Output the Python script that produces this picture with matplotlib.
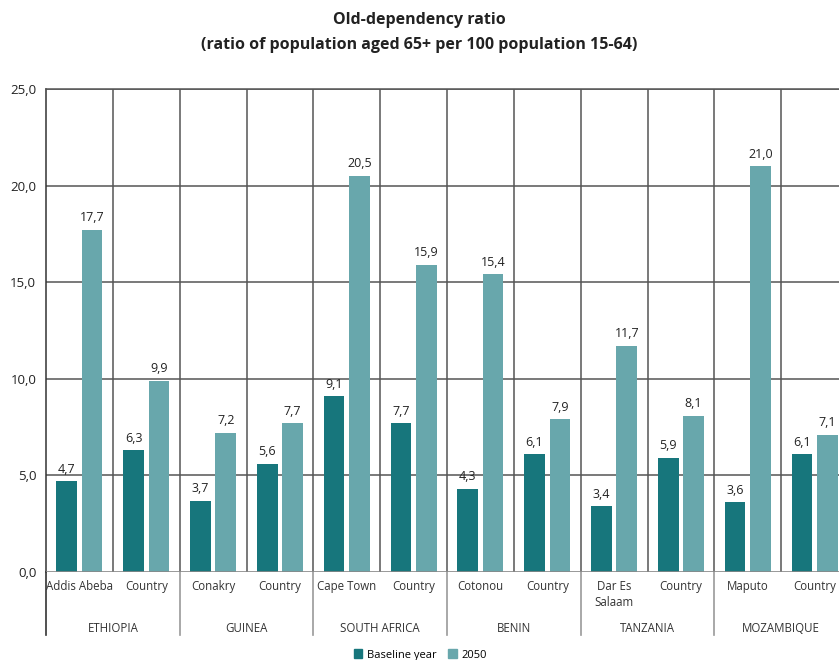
import numpy as np
import matplotlib
matplotlib.use("Agg")
import matplotlib.pyplot as plt
from matplotlib.patches import Patch

plt.rcParams['font.family'] = ['Open Sans', 'DejaVu Sans']

countries = ["ETHIOPIA", "GUINEA", "SOUTH AFRICA", "BENIN", "TANZANIA", "MOZAMBIQUE"]
places = ["Addis Abeba", "Country", "Conakry", "Country", "Cape Town", "Country",
          "Cotonou", "Country", "Dar Es\nSalaam", "Country", "Maputo", "Country"]
baseline = [4.7, 6.3, 3.7, 5.6, 9.1, 7.7, 4.3, 6.1, 3.4, 5.9, 3.6, 6.1]
y2050 = [17.7, 9.9, 7.2, 7.7, 20.5, 15.9, 15.4, 7.9, 11.7, 8.1, 21.0, 7.1]
yticks = [0, 5, 10, 15, 20, 25]

c_base = "#17767c"
c_2050 = "#68a7ac"
grid_c = "#555555"

fig = plt.figure(figsize=(8.39, 6.6), dpi=100)
W, H = 839, 660
ax = fig.add_axes([46 / W, (H - 572) / H, (848 - 46) / W, (572 - 89) / H])

x = np.arange(len(places)) + 0.5
w = 0.31
b1 = ax.bar(x - 0.19, baseline, w, color=c_base, zorder=3)
b2 = ax.bar(x + 0.19, y2050, w, color=c_2050, zorder=3)

for bars, vals in ((b1, baseline), (b2, y2050)):
    for r, v in zip(bars, vals):
        ax.annotate(f"{v:.1f}".replace(".", ","), (r.get_x() + r.get_width() / 2, v),
                    xytext=(0, 4), textcoords="offset points", ha="center", va="bottom",
                    fontsize=9, color="#222222")

ax.set_xlim(0, len(places))
ax.set_ylim(0, 25)
ax.set_yticks(yticks)
ax.set_yticklabels([f"{t:.1f}".replace(".", ",") for t in yticks], fontsize=9.5, color="#222222")
ax.set_xticks([])
ax.tick_params(axis="y", length=0, pad=7)

for t in yticks[1:]:
    ax.axhline(t, color=grid_c, lw=1.1, zorder=1)
for i in range(1, len(places)):
    ax.axvline(i, color=grid_c, lw=1.1, zorder=1)
ax.axhline(0, color="#888888", lw=1.2, zorder=4)

for s in ["right", "bottom"]:
    ax.spines[s].set_visible(False)
ax.spines["top"].set_color(grid_c)
ax.spines["left"].set_color("#333333")
ax.spines["top"].set_linewidth(1.1)
ax.spines["left"].set_linewidth(1.1)

# group separators below axis
trans = ax.get_xaxis_transform()
low = -63 / 483
for i in range(0, len(places) + 1, 2):
    col = "#333333" if i == 0 else "#999999"
    ax.plot([i, i], [0, low], color=col, lw=1.2, transform=trans, clip_on=False)

for xi, p in zip(x, places):
    ax.text(xi, -8 / 483, p, transform=trans, ha="center", va="top",
            fontsize=8.3, color="#333333", linespacing=1.25)
for i, c in enumerate(countries):
    ax.text(2 * i + 1, -57 / 483, c, transform=trans, ha="center", va="center",
            fontsize=8.3, color="#333333")

fig.text(0.5, 1 - 20 / H, "Old-dependency ratio", ha="center", va="center",
         fontsize=11.5, fontweight="bold", color="#222222")
fig.text(0.5, 1 - 45 / H, "(ratio of population aged 65+ per 100 population 15-64)",
         ha="center", va="center", fontsize=11.5, fontweight="bold", color="#222222")

handles = [Patch(color=c_base, label="Baseline year"), Patch(color=c_2050, label="2050")]
fig.legend(handles=handles, loc="center", bbox_to_anchor=(420 / W, 1 - 655 / H), ncol=2,
           frameon=False, fontsize=8, handlelength=0.8, handleheight=0.8,
           handletextpad=0.4, columnspacing=1.0)

fig.savefig("out.png", dpi=100)
